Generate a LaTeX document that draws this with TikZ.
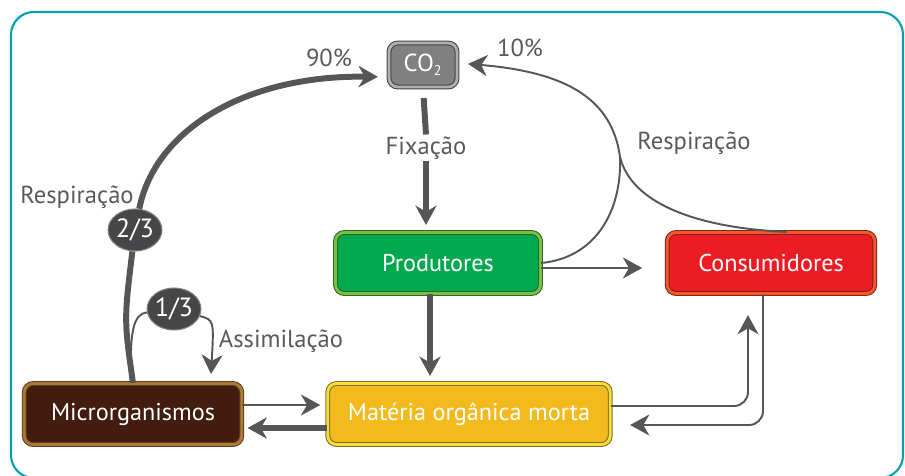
\documentclass[tikz,border=0pt]{standalone}
\usepackage{fontspec}
\setmainfont{PT Sans}
\usetikzlibrary{arrows.meta,shapes.geometric}

\definecolor{moldura}{RGB}{0,160,175}
\definecolor{linha}{RGB}{85,86,88}
\definecolor{texto}{RGB}{88,89,91}
\definecolor{verde}{RGB}{0,168,80}
\definecolor{verdeclaro}{RGB}{125,192,65}
\definecolor{verdeesc}{RGB}{40,105,50}
\definecolor{vermelho}{RGB}{237,28,36}
\definecolor{laranja}{RGB}{241,90,41}
\definecolor{vermelhoesc}{RGB}{140,30,30}
\definecolor{amarelo}{RGB}{242,186,28}
\definecolor{amareloclaro}{RGB}{250,222,45}
\definecolor{amareloesc}{RGB}{120,110,60}
\definecolor{marrom}{RGB}{66,28,14}
\definecolor{marromclaro}{RGB}{172,122,52}
\definecolor{marromesc}{RGB}{95,62,30}
\definecolor{cinza}{RGB}{128,128,128}
\definecolor{cinzaclaro}{RGB}{175,175,175}
\definecolor{cinzaesc}{RGB}{70,70,72}

\tikzset{
  caixa/.style={rounded corners=5pt, text=white, font=\fontsize{13.8}{16}\selectfont,
    minimum height=1.22cm, line width=0.6pt, double distance=1.6pt},
  rotulo/.style={text=texto, font=\fontsize{14}{16}\selectfont, inner sep=1pt},
  fracao/.style={ellipse, fill=cinzaesc, draw=cinza, line width=0.6pt, text=white,
    font=\fontsize{15}{17}\selectfont, inner sep=0pt, minimum width=0.98cm, minimum height=0.84cm},
  grossa/.style={draw=linha, line width=3.4pt},
  fina/.style={draw=linha, line width=1.1pt},
  seta/.style={-{Stealth[length=11pt,width=12pt,inset=3.5pt]}}
}

\begin{document}
\begin{tikzpicture}[x=0.02cm,y=-0.02cm]
\useasboundingbox (0,0) rectangle (905,476);
\draw[moldura, line width=1.2pt, rounded corners=13pt] (11,12) rectangle (903,478);

% caixas
\node[caixa, fill=cinza, draw=cinzaesc, double=cinzaclaro, minimum width=1.36cm, minimum height=0.88cm,
  font=\fontsize{14}{16}\selectfont] (co2) at (423,65) {CO\textsubscript{\fontsize{8}{9}\selectfont 2}};
\node[caixa, fill=verde, draw=verdeesc, double=verdeclaro, minimum width=4.1cm] (prod) at (438,263) {Produtores};
\node[caixa, fill=vermelho, draw=vermelhoesc, double=laranja, minimum width=4.15cm] (cons) at (771,263) {Consumidores};
\node[caixa, fill=amarelo, draw=amareloesc, double=amareloclaro, minimum width=5.65cm] (mat) at (469,414) {Matéria orgânica morta};
\node[caixa, fill=marrom, draw=marromesc, double=marromclaro, minimum width=4.35cm] (micro) at (133,414) {Microrganismos};

% rotulos
\node[rotulo] (fix) at (426,148) {Fixação};
\node[rotulo] (resp1) at (77,197) {Respiração};
\node[rotulo] (resp2) at (694,143) {Respiração};
\node[rotulo] (assim) at (281,341) {Assimilação};
\node[rotulo] (p90) at (329,58) {90\%};
\node[rotulo] (p10) at (520,48) {10\%};

\node[fracao] (dois) at (135,230) {2/3};
\node[fracao] (um) at (174,309) {1/3};

\coordinate (ramo) at (131,372);
\coordinate (alvo) at (211,374);
\coordinate (juncao) at (620,157);

% fixacao
\draw[grossa, shorten <=6pt] (co2.south) -- (fix.north);
\draw[grossa, seta, shorten >=4pt] (fix.south) -- (fix.south |- prod.north);

% respiracao dos microrganismos
\draw[grossa] (micro.north) .. controls (124,320) .. (dois);
\draw[grossa, seta, shorten >=6pt] (dois) .. controls (155,130) and (245,75) .. ([yshift=-0.24cm]co2.west);
\draw[fina] (ramo) .. controls (130,330) and (134,314) .. (um);
\draw[fina, seta] (um) .. controls (214,320) .. (alvo);

% respiracao de produtores e consumidores
\draw[fina] ([xshift=0.32cm]cons.north) .. controls (700,228) and (632,205) .. (juncao);
\draw[fina] (prod.east) .. controls (595,258) and (622,212) .. (juncao);
\draw[fina, seta, shorten >=6pt] (juncao) .. controls (612,98) and (565,72) .. ([yshift=0.04cm]co2.east);

% fluxos
\draw[fina, seta, shorten >=14pt] ([yshift=-0.1cm]prod.east) -- ([yshift=-0.1cm]cons.west);
\draw[grossa, seta, shorten >=4pt] ([xshift=-0.16cm]prod.south) -- ([xshift=-0.16cm]prod.south |- mat.north);
\draw[fina, seta, shorten >=4pt] ([yshift=0.18cm]micro.east) -- ([yshift=0.18cm]mat.west);
\draw[grossa, seta, shorten >=3pt] ([yshift=-0.28cm]mat.west) -- ([yshift=-0.28cm]micro.east);
\draw[fina, seta, rounded corners=8pt, shorten >=12pt] ([yshift=0.16cm]mat.east) -| ([xshift=-0.46cm]cons.south);
\draw[fina, seta, rounded corners=8pt, shorten >=11pt] ([xshift=-0.16cm]cons.south) |- ([yshift=-0.22cm]mat.east);
\end{tikzpicture}
\end{document}
